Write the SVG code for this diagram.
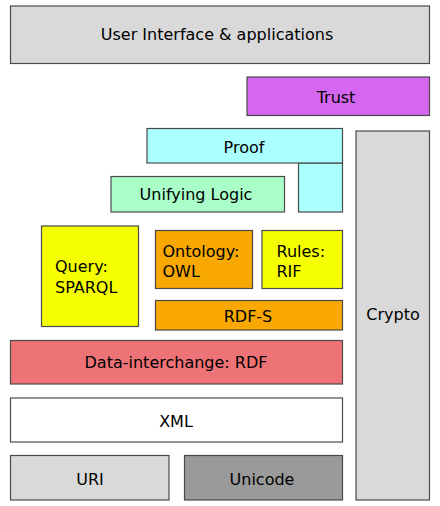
<svg xmlns="http://www.w3.org/2000/svg" width="440" height="506" viewBox="0 0 440 506">
<style>
rect{stroke:#4a4a4a;stroke-width:1.2}
text{font-family:"DejaVu Sans",sans-serif;font-size:16px;fill:#000}
.c{text-anchor:middle}
</style>
<rect width="440" height="506" fill="#fff" style="stroke:none"/>
<g id="ui"><rect x="10.5" y="6" width="419" height="57.5" fill="#d9d9d9"/><text class="c" x="217" y="40">User Interface &amp; applications</text></g>
<g id="trust"><rect x="247" y="77" width="182.5" height="38.5" fill="#d466f0"/><text class="c" x="336" y="103">Trust</text></g>
<g id="proof"><rect x="298.5" y="163" width="44" height="49" fill="#aaffff"/><rect x="147" y="128.5" width="195.5" height="34.5" fill="#aaffff"/><text class="c" x="244" y="152.5">Proof</text></g>
<g id="crypto"><rect x="356" y="131" width="73.5" height="369" fill="#d9d9d9"/><text class="c" x="393" y="320">Crypto</text></g>
<g id="logic"><rect x="111" y="176.5" width="173.5" height="35.5" fill="#aaffc8"/><text class="c" x="196" y="200">Unifying Logic</text></g>
<g id="query"><rect x="41.5" y="226" width="97" height="100.5" fill="#f6ff00"/><text x="55" y="271.5">Query:</text><text x="55" y="292.5">SPARQL</text></g>
<g id="ontology"><rect x="155.5" y="230.5" width="97" height="58" fill="#f8a800"/><text x="162.5" y="256.5">Ontology:</text><text x="162.5" y="276.5">OWL</text></g>
<g id="rules"><rect x="262" y="230.5" width="80.5" height="58" fill="#f6ff00"/><text x="276.5" y="256.5">Rules:</text><text x="276.5" y="276.5">RIF</text></g>
<g id="rdfs"><rect x="155.5" y="300.5" width="187" height="29.5" fill="#f8a800"/><text class="c" x="248" y="321.5">RDF-S</text></g>
<g id="rdf"><rect x="10.5" y="340.5" width="332" height="43.5" fill="#ee7377"/><text class="c" x="176" y="368">Data-interchange: RDF</text></g>
<g id="xml"><rect x="10.5" y="398" width="332" height="44" fill="#fff"/><text class="c" x="176" y="426.5">XML</text></g>
<g id="uri"><rect x="10.5" y="455.5" width="158.5" height="44.5" fill="#d9d9d9"/><text class="c" x="90" y="485">URI</text></g>
<g id="unicode"><rect x="184.5" y="455.5" width="158" height="44.5" fill="#9a9a9a"/><text class="c" x="262" y="485">Unicode</text></g>
<g id="connectors"/>
</svg>
